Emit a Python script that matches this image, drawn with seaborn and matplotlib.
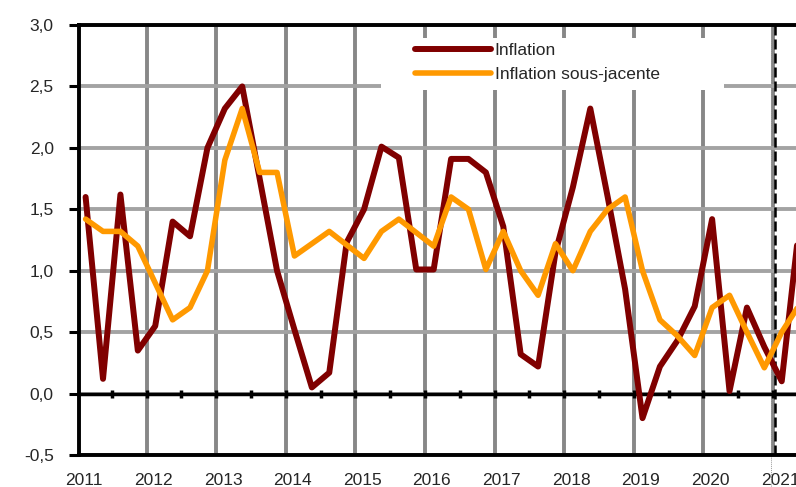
import numpy as np
import pandas as pd
import matplotlib
matplotlib.use("Agg")
import matplotlib.pyplot as plt
from matplotlib.patches import Rectangle
import seaborn as sns

# quarterly data, 2011T1 .. 2021T2
years = list(range(2011, 2022))
inflation = [1.6, 0.12, 1.62, 0.35, 0.55, 1.4, 1.28, 2.0, 2.32, 2.5, 1.75, 1.0,
             0.52, 0.05, 0.17, 1.23, 1.5, 2.01, 1.92, 1.01, 1.01, 1.91, 1.91, 1.8,
             1.36, 0.32, 0.22, 1.15, 1.68, 2.32, 1.6, 0.85, -0.2, 0.22, 0.43, 0.71,
             1.42, 0.02, 0.7, 0.38, 0.1, 1.36]
sous_jacente = [1.42, 1.32, 1.32, 1.2, 0.9, 0.6, 0.7, 1.0, 1.9, 2.32, 1.8, 1.8,
                1.12, 1.22, 1.32, 1.21, 1.1, 1.32, 1.42, 1.31, 1.2, 1.6, 1.5, 1.01,
                1.32, 1.0, 0.8, 1.22, 1.0, 1.32, 1.5, 1.6, 1.0, 0.6, 0.47, 0.31,
                0.7, 0.8, 0.5, 0.21, 0.5, 0.72]
yticks = [-0.5, 0.0, 0.5, 1.0, 1.5, 2.0, 2.5, 3.0]
ytick_labels = ["-0,5", "0,0", "0,5", "1,0", "1,5", "2,0", "2,5", "3,0"]

pos = [y + (q - 0.5) / 4 for y in years for q in range(1, 5)][:len(inflation)]
df = pd.DataFrame({"t": pos, "Inflation": inflation,
                   "Inflation sous-jacente": sous_jacente})

sns.set_style("white")
plt.rcParams['font.family'] = ['Liberation Sans', 'DejaVu Sans']

fig = plt.figure(figsize=(7.96, 4.87), dpi=100)
ax = fig.add_axes([79 / 796, 32 / 487, 717 / 796, 430 / 487])

sns.lineplot(data=df, x="t", y="Inflation", color="#800000", lw=4.3,
             label="Inflation", ax=ax, zorder=3)
sns.lineplot(data=df, x="t", y="Inflation sous-jacente", color="#FF9900", lw=4.0,
             label="Inflation sous-jacente", ax=ax, zorder=4)

ax.set_xlim(2011.03, 2021.33)
ax.set_ylim(-0.5, 3.0)
ax.set_xlabel("")
ax.set_ylabel("")

# labels sit a little right of the year gridlines
ax.set_xticks([y + 0.1 for y in years])
ax.set_xticklabels([str(y) for y in years])
ax.set_xticks(years[1:], minor=True)
ax.tick_params(axis="x", which="both", length=0, pad=13, labelsize=12.5)
ax.set_yticks(yticks, ytick_labels)
ax.tick_params(axis="y", length=7.2, width=2.2, pad=11, labelsize=12.5,
               color="black", left=True)

ax.set_axisbelow(True)
ax.grid(False)
ax.grid(axis="x", which="minor", color="#878787", lw=2.8)
ax.grid(axis="y", which="major", color="#a3a3a3", lw=2.8)

for s in ["left", "top", "bottom"]:
    ax.spines[s].set_color("black")
    ax.spines[s].set_linewidth(2.8)
ax.spines["right"].set_visible(False)

# zero line with half-year tick dots
ax.axhline(0, color="black", lw=2.5, zorder=2)
half = np.arange(2011.5, 2021.3, 0.5)
ax.plot(half, np.zeros(len(half)), ls="none", marker="|", ms=6, mew=2.5,
        color="black", zorder=2)

# vertical markers at the start of 2021
ax.axvline(2020.97, color="#9a9a9a", lw=0.7, ls=(0, (1, 1)), ymin=-0.08,
           clip_on=False, zorder=1)
ax.axvline(2021.03, color="black", lw=1.8, dashes=(4, 1.6), zorder=2.5)

# white box behind legend hides the grid
ax.add_patch(Rectangle((0.421, 0.849), 0.479, 0.121, transform=ax.transAxes,
                       facecolor="white", edgecolor="none", zorder=1))
leg = ax.legend(loc="upper left", bbox_to_anchor=(0.4686, 0.958), frameon=False,
                handlelength=4.4, handletextpad=0.2, labelspacing=0.5,
                fontsize=12.5, borderpad=0, borderaxespad=0)
for h in leg.get_lines():
    h.set_solid_capstyle("round")

fig.savefig("out.png", dpi=100)
